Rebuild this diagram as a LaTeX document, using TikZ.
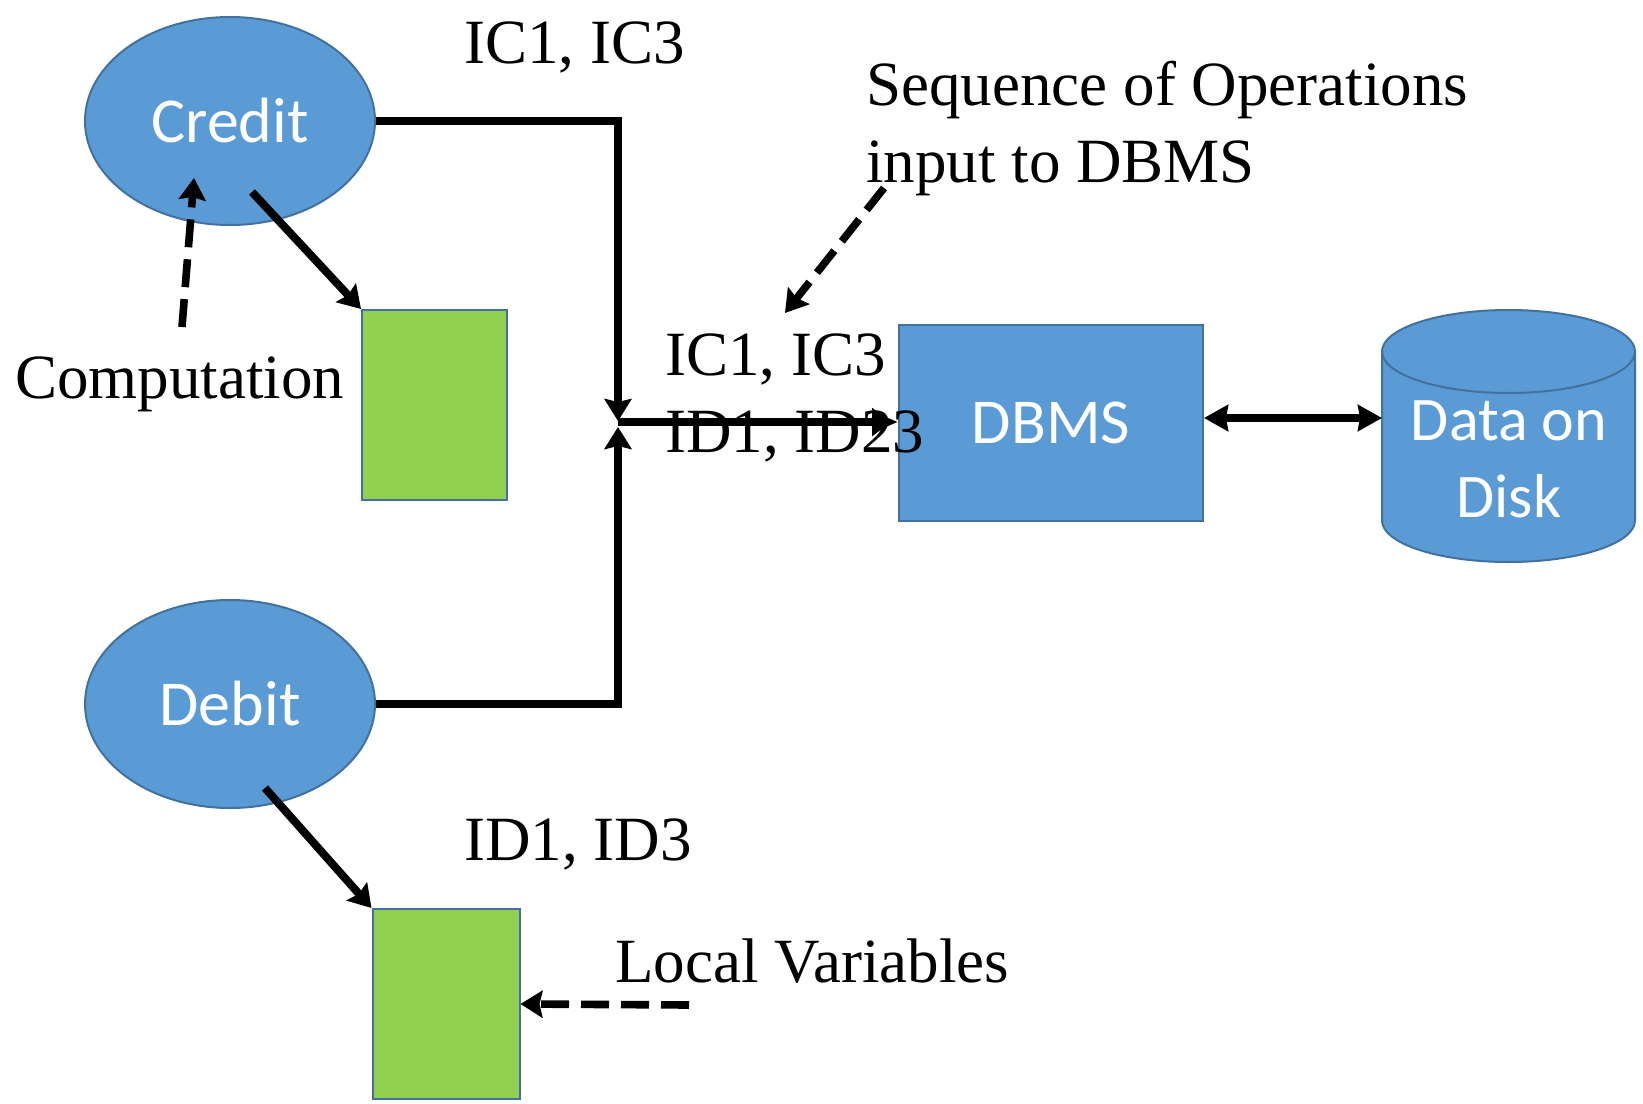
\documentclass[tikz,border=0pt]{standalone}
\usepackage{fontspec}
\setmainfont{Liberation Serif}
\newfontfamily\calfont{Carlito}
\usetikzlibrary{arrows.meta,shapes.geometric}
\definecolor{fillblue}{HTML}{5B9BD5}
\definecolor{edgeblue}{HTML}{41719C}
\definecolor{memgreen}{HTML}{92D050}
\begin{document}
\begin{tikzpicture}[x=0.5pt,y=-0.5pt,
  proc/.style={ellipse, draw=edgeblue, line width=1pt, fill=fillblue,
    minimum width=145pt, minimum height=104pt, inner sep=0pt,
    font=\calfont\fontsize{32}{38}\selectfont, text=white},
  store/.style={rectangle, draw=edgeblue, line width=1pt, fill=memgreen,
    inner sep=0pt, minimum height=95pt},
  engine/.style={rectangle, draw=edgeblue, line width=1pt, fill=fillblue,
    inner sep=0pt, minimum width=152pt, minimum height=98pt,
    font=\calfont\fontsize{32}{38}\selectfont, text=white},
  disktext/.style={inner sep=0pt, anchor=base,
    font=\calfont\fontsize{31}{38}\selectfont, text=white},
  lbl/.style={inner sep=0pt, anchor=base west, font=\fontsize{31.5}{38.5}\selectfont},
  flow/.style={line width=4pt, -{Stealth[length=11pt,width=13.5pt,inset=1.5pt]}},
  hint/.style={flow, line width=3.8pt, dash pattern=on 14pt off 6pt},
]
\useasboundingbox (0,0) rectangle (1643,1103);

% processes and their local variables
\node[proc] (credit) at (230,121) {Credit};
\node[proc] (debit) at (230,704) {Debit};
\node[store, minimum width=72.5pt] (mem1) at (434.5,405) {};
\node[store, minimum width=73.5pt] (mem2) at (446,1004) {};

% database system
\node[engine] (dbms) at (1051,423) {DBMS};

% disk cylinder
\filldraw[fill=fillblue, draw=edgeblue, line width=1pt]
  (1382,351.5) -- (1382,520.5)
  arc[start angle=180, end angle=360, x radius=63.25pt, y radius=20.75pt]
  -- (1635,351.5)
  arc[start angle=0, end angle=180, x radius=63.25pt, y radius=20.75pt] -- cycle;
\draw[edgeblue, line width=1pt] (1382,351.5)
  arc[start angle=180, end angle=360, x radius=63.25pt, y radius=20.75pt];
\node[disktext] (disk1) at (1509,440) {Data on};
\node[disktext] (disk2) at (1509,517) {Disk};
\coordinate (diskL) at (1382,418);

% labels
\node[lbl] (ictop) at (464,63) {IC1, IC3};
\node[lbl] (seq1) at (866,105) {Sequence of Operations};
\node[lbl] (seq2) at (866,182) {input to DBMS};
\node[lbl] (comp) at (15,398) {Computation};
\node[lbl] (icmid) at (665,375) {IC1, IC3};
\node[lbl] (idmid) at (665,452) {ID1, ID23};
\node[lbl] (idbot) at (464,860) {ID1, ID3};
\node[lbl] (locv) at (615,982) {Local Variables};

% connector end points
\coordinate (jtop) at (618,421);
\coordinate (jbot) at (618,427);
\coordinate (jn) at (618,422);
\coordinate (compS) at (182,327);
\coordinate (compE) at (194,178);
\coordinate (seqS) at (884,188);
\coordinate (seqE) at (785,313);
\coordinate (locS) at (689,1005);

% operation streams merging into the DBMS
\draw[flow] (credit.east) -| (jtop);
\draw[flow] (debit.east) -| (jbot);
\draw[line width=4pt, -{Latex[length=13pt,width=15pt]}] (jn) -- (jn -| dbms.west);
\draw[line width=3.6pt, {Stealth[length=12pt,width=13pt,inset=1pt]}-{Stealth[length=12pt,width=13pt,inset=1pt]}]
  (dbms.east |- diskL) -- (diskL);

% computation writes local variables
\draw[flow] ([shift={(22,71)}]credit.center) -- (mem1.north west);
\draw[flow] ([shift={(35,84)}]debit.center) -- (mem2.north west);

% annotation pointers
\draw[hint] (compS) -- (compE);
\draw[hint] (seqS) -- (seqE);
\draw[hint] (locS) -- (mem2.east);
\end{tikzpicture}
\end{document}
